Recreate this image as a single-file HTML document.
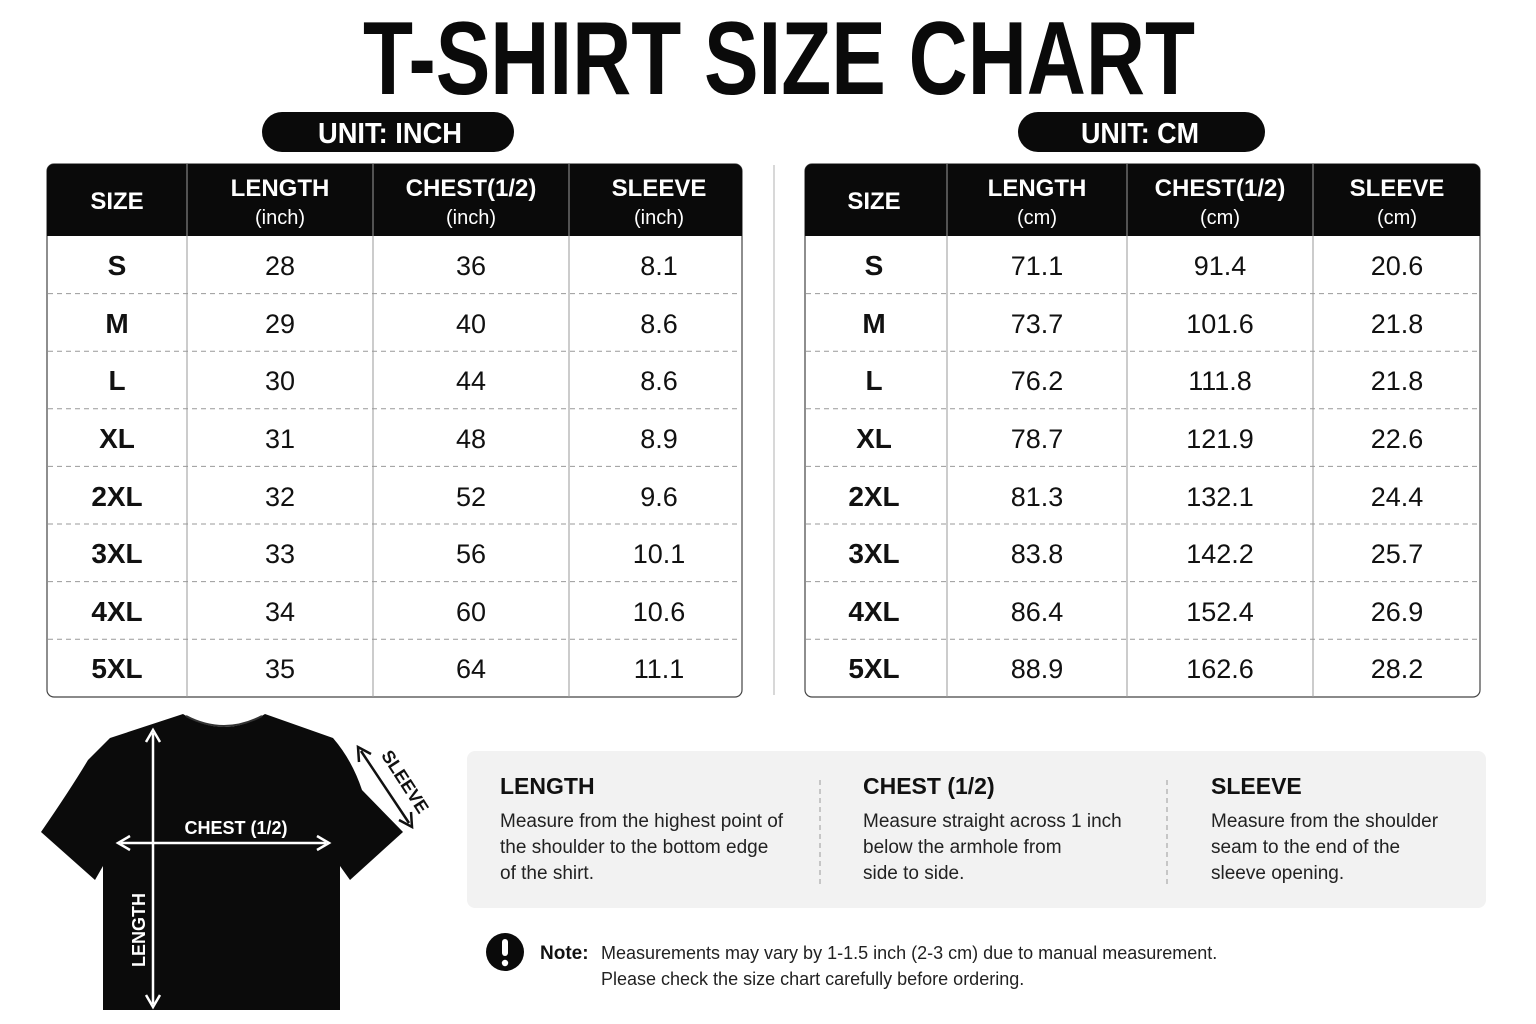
<!DOCTYPE html>
<html><head><meta charset="utf-8"><style>
html,body{margin:0;padding:0;background:#fff;}
svg{display:block;}
text{font-family:"Liberation Sans Narrow","Liberation Sans",sans-serif;}
</style></head><body>
<svg width="1536" height="1024" viewBox="0 0 1536 1024" xmlns="http://www.w3.org/2000/svg">
<rect width="1536" height="1024" fill="#fff"/>
<text x="779" y="94" font-size="104" font-weight="bold" text-anchor="middle" textLength="832" lengthAdjust="spacingAndGlyphs" fill="#0a0a0a">T-SHIRT SIZE CHART</text>
<rect x="262" y="112" width="252" height="40" rx="20" fill="#0a0a0a"/>
<text x="390" y="143" font-size="29" font-weight="bold" text-anchor="middle" textLength="144" lengthAdjust="spacingAndGlyphs" fill="#fff">UNIT: INCH</text>
<rect x="1018" y="112" width="247" height="40" rx="20" fill="#0a0a0a"/>
<text x="1140" y="143" font-size="29" font-weight="bold" text-anchor="middle" textLength="118" lengthAdjust="spacingAndGlyphs" fill="#fff">UNIT: CM</text>
<line x1="774" y1="165" x2="774" y2="695" stroke="#ccc" stroke-width="1.5"/>

<!-- left table -->
<g>
<rect x="47" y="164" width="695" height="533" rx="7" fill="#fff" stroke="#444" stroke-width="1.2"/>
<path d="M47 236 V171 a7 7 0 0 1 7 -7 H735 a7 7 0 0 1 7 7 V236 Z" fill="#0a0a0a"/>
<g stroke="#999" stroke-width="1"><line x1="187" y1="164" x2="187" y2="697"/><line x1="373" y1="164" x2="373" y2="697"/><line x1="569" y1="164" x2="569" y2="697"/></g>
<g stroke="#999" stroke-width="1" stroke-dasharray="5,4">
<line x1="48" y1="293.6" x2="741" y2="293.6"/><line x1="48" y1="351.2" x2="741" y2="351.2"/><line x1="48" y1="408.8" x2="741" y2="408.8"/><line x1="48" y1="466.4" x2="741" y2="466.4"/><line x1="48" y1="524" x2="741" y2="524"/><line x1="48" y1="581.6" x2="741" y2="581.6"/><line x1="48" y1="639.2" x2="741" y2="639.2"/></g>
<g fill="#fff" font-weight="bold" text-anchor="middle" font-size="24">
<text x="117" y="209">SIZE</text><text x="280" y="196">LENGTH</text><text x="471" y="196">CHEST(1/2)</text><text x="659" y="196">SLEEVE</text></g>
<g fill="#fff" text-anchor="middle" font-size="20"><text x="280" y="224">(inch)</text><text x="471" y="224">(inch)</text><text x="659" y="224">(inch)</text></g>
<g fill="#111" font-weight="bold" text-anchor="middle" font-size="28">
<text x="117" y="275">S</text><text x="117" y="333">M</text><text x="117" y="390">L</text><text x="117" y="448">XL</text><text x="117" y="506">2XL</text><text x="117" y="563">3XL</text><text x="117" y="621">4XL</text><text x="117" y="678">5XL</text></g>
<g fill="#111" text-anchor="middle" font-size="27">
<text x="280" y="275">28</text><text x="280" y="333">29</text><text x="280" y="390">30</text><text x="280" y="448">31</text><text x="280" y="506">32</text><text x="280" y="563">33</text><text x="280" y="621">34</text><text x="280" y="678">35</text>
<text x="471" y="275">36</text><text x="471" y="333">40</text><text x="471" y="390">44</text><text x="471" y="448">48</text><text x="471" y="506">52</text><text x="471" y="563">56</text><text x="471" y="621">60</text><text x="471" y="678">64</text>
<text x="659" y="275">8.1</text><text x="659" y="333">8.6</text><text x="659" y="390">8.6</text><text x="659" y="448">8.9</text><text x="659" y="506">9.6</text><text x="659" y="563">10.1</text><text x="659" y="621">10.6</text><text x="659" y="678">11.1</text></g>
</g>

<!-- right table -->
<g>
<rect x="805" y="164" width="675" height="533" rx="7" fill="#fff" stroke="#444" stroke-width="1.2"/>
<path d="M805 236 V171 a7 7 0 0 1 7 -7 H1473 a7 7 0 0 1 7 7 V236 Z" fill="#0a0a0a"/>
<g stroke="#999" stroke-width="1"><line x1="947" y1="164" x2="947" y2="697"/><line x1="1127" y1="164" x2="1127" y2="697"/><line x1="1313" y1="164" x2="1313" y2="697"/></g>
<g stroke="#999" stroke-width="1" stroke-dasharray="5,4">
<line x1="806" y1="293.6" x2="1479" y2="293.6"/><line x1="806" y1="351.2" x2="1479" y2="351.2"/><line x1="806" y1="408.8" x2="1479" y2="408.8"/><line x1="806" y1="466.4" x2="1479" y2="466.4"/><line x1="806" y1="524" x2="1479" y2="524"/><line x1="806" y1="581.6" x2="1479" y2="581.6"/><line x1="806" y1="639.2" x2="1479" y2="639.2"/></g>
<g fill="#fff" font-weight="bold" text-anchor="middle" font-size="24">
<text x="874" y="209">SIZE</text><text x="1037" y="196">LENGTH</text><text x="1220" y="196">CHEST(1/2)</text><text x="1397" y="196">SLEEVE</text></g>
<g fill="#fff" text-anchor="middle" font-size="20"><text x="1037" y="224">(cm)</text><text x="1220" y="224">(cm)</text><text x="1397" y="224">(cm)</text></g>
<g fill="#111" font-weight="bold" text-anchor="middle" font-size="28">
<text x="874" y="275">S</text><text x="874" y="333">M</text><text x="874" y="390">L</text><text x="874" y="448">XL</text><text x="874" y="506">2XL</text><text x="874" y="563">3XL</text><text x="874" y="621">4XL</text><text x="874" y="678">5XL</text></g>
<g fill="#111" text-anchor="middle" font-size="27">
<text x="1037" y="275">71.1</text><text x="1037" y="333">73.7</text><text x="1037" y="390">76.2</text><text x="1037" y="448">78.7</text><text x="1037" y="506">81.3</text><text x="1037" y="563">83.8</text><text x="1037" y="621">86.4</text><text x="1037" y="678">88.9</text>
<text x="1220" y="275">91.4</text><text x="1220" y="333">101.6</text><text x="1220" y="390">111.8</text><text x="1220" y="448">121.9</text><text x="1220" y="506">132.1</text><text x="1220" y="563">142.2</text><text x="1220" y="621">152.4</text><text x="1220" y="678">162.6</text>
<text x="1397" y="275">20.6</text><text x="1397" y="333">21.8</text><text x="1397" y="390">21.8</text><text x="1397" y="448">22.6</text><text x="1397" y="506">24.4</text><text x="1397" y="563">25.7</text><text x="1397" y="621">26.9</text><text x="1397" y="678">28.2</text></g>
</g>

<!-- t-shirt -->
<path d="M183 714 Q224 740 265 714 L333 738 Q352 760 362 790 L403 832 L350 880 L340 866 L340 1010 L103 1010 L103 866 L95 880 L41 832 Q70 790 88 760 L110 738 Z" fill="#0b0b0b"/>
<path d="M186 716 Q224 736 262 716" stroke="#333" stroke-width="2" fill="none"/>
<g stroke="#fff" stroke-width="2.5" fill="none">
<line x1="153" y1="733" x2="153" y2="1004"/>
<polyline points="146,742 153,730 160,742"/><polyline points="146,995 153,1007 160,995"/>
<line x1="121" y1="843" x2="326" y2="843"/>
<polyline points="130,836 118,843 130,850"/><polyline points="317,836 329,843 317,850"/>
</g>
<text x="236" y="834" font-size="18" font-weight="bold" fill="#fff" text-anchor="middle">CHEST (1/2)</text>
<text transform="translate(145,930) rotate(-90)" font-size="18" font-weight="bold" fill="#fff" text-anchor="middle">LENGTH</text>
<g stroke="#111" stroke-width="2.5" fill="none">
<line x1="361" y1="751" x2="409" y2="823"/>
<polyline points="359,762 358,747 371,754"/><polyline points="399,820 412,827 411,812"/>
</g>
<text transform="translate(400,785) rotate(57)" font-size="18" font-weight="bold" fill="#111" text-anchor="middle">SLEEVE</text>

<!-- info box -->
<rect x="467" y="751" width="1019" height="157" rx="8" fill="#f2f2f2"/>
<g stroke="#999" stroke-width="1" stroke-dasharray="5,4"><line x1="820" y1="780" x2="820" y2="884"/><line x1="1167" y1="780" x2="1167" y2="884"/></g>
<g font-size="23" font-weight="bold" fill="#111">
<text x="500" y="794">LENGTH</text><text x="863" y="794">CHEST (1/2)</text><text x="1211" y="794">SLEEVE</text></g>
<g font-size="19" fill="#222">
<text x="500" y="827">Measure from the highest point of</text><text x="500" y="853">the shoulder to the bottom edge</text><text x="500" y="879">of the shirt.</text>
<text x="863" y="827">Measure straight across 1 inch</text><text x="863" y="853">below the armhole from</text><text x="863" y="879">side to side.</text>
<text x="1211" y="827">Measure from the shoulder</text><text x="1211" y="853">seam to the end of the</text><text x="1211" y="879">sleeve opening.</text></g>

<circle cx="505" cy="952" r="19" fill="#0a0a0a"/>
<rect x="502" y="939" width="6" height="17" rx="3" fill="#fff"/><circle cx="505" cy="963" r="3.2" fill="#fff"/>
<text x="540" y="959" font-size="19" font-weight="bold" fill="#111">Note:</text>
<text x="601" y="959" font-size="18" fill="#222">Measurements may vary by 1-1.5 inch (2-3 cm) due to manual measurement.</text>
<text x="601" y="985" font-size="18" fill="#222">Please check the size chart carefully before ordering.</text>
</svg>
</body></html>
